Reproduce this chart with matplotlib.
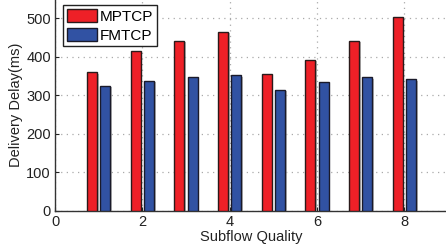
import matplotlib
matplotlib.use("Agg")
import matplotlib.pyplot as plt
import matplotlib.patheffects as pe
import numpy as np

quality = [1, 2, 3, 4, 5, 6, 7, 8]
mptcp = [359, 414, 441, 464, 355, 392, 441, 504]
fmtcp = [324, 337, 346, 352, 314, 334, 346, 341]
xticks = [0, 2, 4, 6, 8]
yticks = [0, 100, 200, 300, 400, 500]

plt.rcParams['font.family'] = ['Liberation Sans', 'DejaVu Sans']

fig = plt.figure(figsize=(4.46, 2.5), dpi=100)
ax = fig.add_axes([55/446, 1 - 210.8/250, 393/446, 212/250])

x = np.array(quality, dtype=float)
w = 0.23
shadow = [pe.SimplePatchShadow(offset=(1.2, -1.0), shadow_rgbFace='#999999', alpha=0.7), pe.Normal()]
b1 = ax.bar(x - 0.15, mptcp, w, color='#EE2027', edgecolor='#2a1a1a', linewidth=1.0, label='MPTCP', zorder=3)
b2 = ax.bar(x + 0.15, fmtcp, w, color='#3152A3', edgecolor='#1a1a2a', linewidth=1.0, label='FMTCP', zorder=3)
for b in list(b1) + list(b2):
    b.set_path_effects(shadow)

ax.set_xlim(0, 9)
ax.set_ylim(0, 550)
ax.set_xticks(xticks)
ax.set_yticks(yticks)
ax.tick_params(direction='in', length=3, labelsize=10.5, colors='#222222', pad=3)
ax.grid(True, color='#aaaaaa', linestyle=(0, (1, 3.5)), linewidth=0.9, zorder=0)
for s in ['top', 'right']:
    ax.spines[s].set_visible(False)
for s in ['left', 'bottom']:
    ax.spines[s].set_color('#333333')
    ax.spines[s].set_linewidth(1.0)

ax.set_xlabel('Subflow Quality', fontsize=10.5, labelpad=1, color='#222222')
ax.set_ylabel('Delivery Delay(ms)', fontsize=10.5, labelpad=2, color='#222222')

leg = ax.legend(loc='upper left', bbox_to_anchor=(8/393, 1 - 6/212), fontsize=11,
                frameon=True, fancybox=False, edgecolor='#222222', framealpha=1,
                handlelength=2.0, handleheight=1.0, handletextpad=0.15,
                borderpad=0.25, labelspacing=0.25, borderaxespad=0)
leg.get_frame().set_linewidth(1.0)
for h in leg.legend_handles:
    h.set_path_effects([])

fig.savefig('out.png', dpi=100)
